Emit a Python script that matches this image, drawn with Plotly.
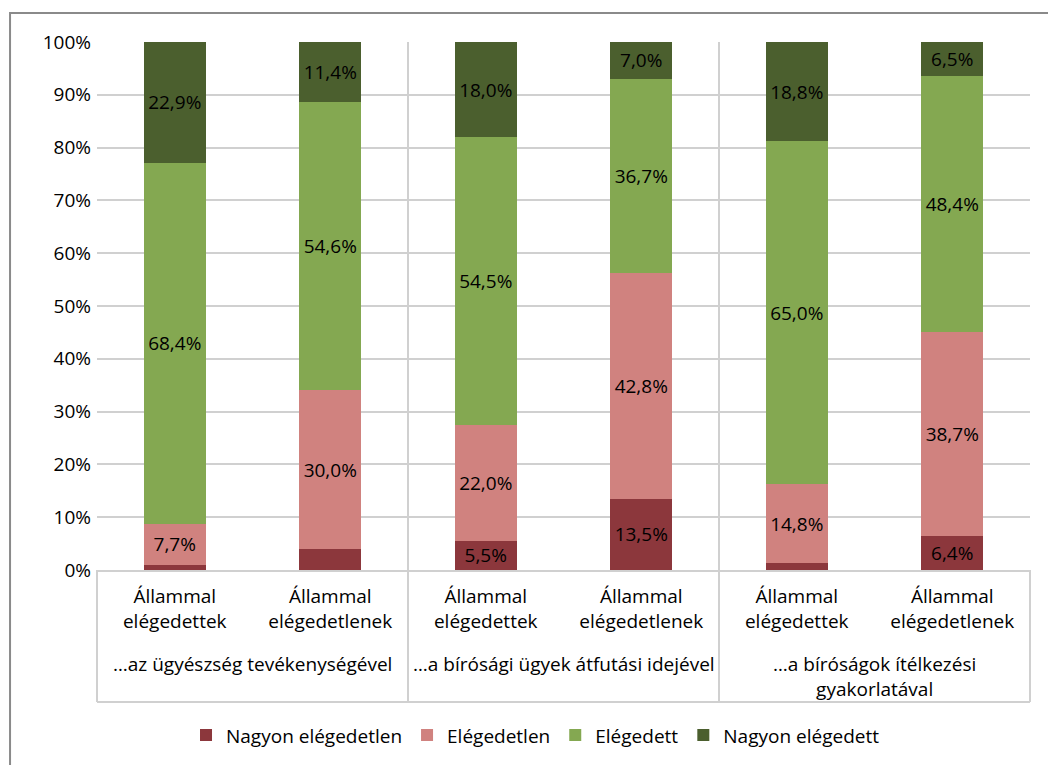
import plotly.graph_objects as go

categories = ["u_eleg", "u_elegtelen", "a_eleg", "a_elegtelen", "i_eleg", "i_elegtelen"]
category_labels = ["Állammal<br>elégedettek", "Állammal<br>elégedetlenek"] * 3
group_labels = ["…az ügyészség tevékenységével",
                "…a bírósági ügyek átfutási idejével",
                "…a bíróságok ítélkezési<br>gyakorlatával"]

series_names = ["Nagyon elégedetlen", "Elégedetlen", "Elégedett", "Nagyon elégedett"]
nagyon_elegedetlen = [1.0, 4.0, 5.5, 13.5, 1.4, 6.4]
elegedetlen = [7.7, 30.0, 22.0, 42.8, 14.8, 38.7]
elegedett = [68.4, 54.6, 54.5, 36.7, 65.0, 48.4]
nagyon_elegedett = [22.9, 11.4, 18.0, 7.0, 18.8, 6.5]
# which segment values carry a visible data label
show_label = [
    [False, False, True, True, False, True],
    [True] * 6,
    [True] * 6,
    [True] * 6,
]
colors = ["#8C373C", "#D0827F", "#84A851", "#4B5F2E"]
y_ticks = [0, 10, 20, 30, 40, 50, 60, 70, 80, 90, 100]
y_tick_text = [f"{v}%" for v in y_ticks]

FONT = "Open Sans"
FS = 19

fig = go.Figure()
for name, vals, shows, col in zip(series_names,
                                  [nagyon_elegedetlen, elegedetlen, elegedett, nagyon_elegedett],
                                  show_label, colors):
    texts = [(f"{v:.1f}".replace(".", ",") + "%") if s else "" for v, s in zip(vals, shows)]
    fig.add_trace(go.Bar(
        name=name, x=categories, y=vals, marker_color=col,
        marker_line_width=0, text=texts, textposition="inside",
        insidetextanchor="middle", textfont=dict(color="#000000", size=FS, family=FONT),
        hoverinfo="skip", width=0.4,
    ))

line_col = "#D0D0D0"
shapes = []
# group separators (through plot and label box)
for xp in [1.5, 3.5]:
    shapes.append(dict(type="line", xref="x", yref="paper", x0=xp, x1=xp, y0=1, y1=-0.25,
                       line=dict(color=line_col, width=2)))
for xp in [0, 1]:
    shapes.append(dict(type="line", xref="paper", yref="paper", x0=xp, x1=xp, y0=0, y1=-0.25,
                       line=dict(color=line_col, width=2)))
shapes.append(dict(type="line", xref="paper", yref="paper", x0=0, x1=1, y0=-0.25, y1=-0.25,
                   line=dict(color=line_col, width=2)))
# outer chart border
shapes.append(dict(type="rect", xref="paper", yref="paper", x0=-0.0932, x1=1.2, y0=-0.6, y1=1.0549,
                   line=dict(color="#8A8A8A", width=2), layer="below"))

annotations = []
for i, g in enumerate(group_labels):
    annotations.append(dict(text=g, xref="x", yref="paper", x=2 * i + 0.5, y=-0.1487,
                            xanchor="center", yanchor="top", showarrow=False,
                            font=dict(size=FS, family=FONT, color="#000000"), align="center"))

fig.update_layout(
    barmode="stack",
    width=1048, height=765,
    margin=dict(l=97, r=18, t=42, b=195, autoexpand=False),
    paper_bgcolor="white", plot_bgcolor="white",
    font=dict(family=FONT, size=FS, color="#000000"),
    uniformtext=dict(minsize=FS, mode="show"),
    shapes=shapes,
    annotations=annotations,
    legend=dict(orientation="h", x=0.470, xanchor="center", y=-0.277, yanchor="top",
                font=dict(size=FS, family=FONT), traceorder="normal", itemwidth=30),
    xaxis=dict(type="category", categoryorder="array", categoryarray=categories,
               tickmode="array", tickvals=categories, ticktext=category_labels,
               showline=True, linecolor=line_col, linewidth=2,
               tickfont=dict(size=FS, family=FONT), ticks="", showgrid=False,
               ticklabelstandoff=8, automargin=False),
    yaxis=dict(range=[0, 100], tickmode="array", tickvals=y_ticks, ticktext=y_tick_text,
               showgrid=True, gridcolor=line_col, gridwidth=2, zeroline=False, showline=False,
               tickfont=dict(size=FS, family=FONT), ticklabelstandoff=5, automargin=False),
)

fig.write_html("out.html", post_script="document.body.style.margin='0';",
               config={"displayModeBar": False})
